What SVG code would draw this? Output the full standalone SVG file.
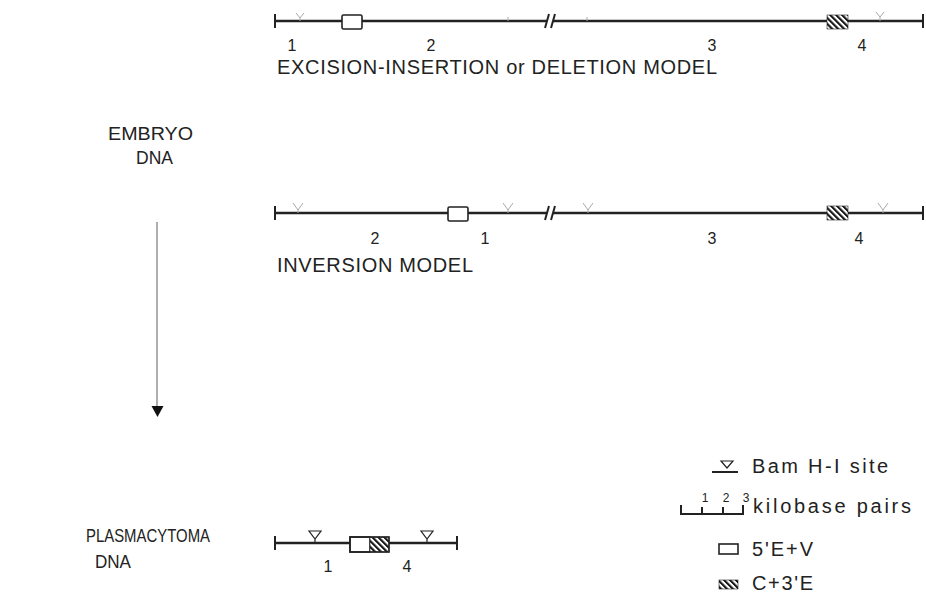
<svg xmlns="http://www.w3.org/2000/svg" width="926" height="599" viewBox="0 0 926 599">
<style>
text{font-family:"Liberation Sans",Arial,sans-serif;fill:#222}
.lbl{font-size:20px}
.side{font-size:19px}
.num{font-size:16px;text-anchor:middle}
.small{font-size:12px;text-anchor:middle}
.dna{stroke:#222;stroke-width:2.5;fill:none}
.tick{stroke:#222;stroke-width:2;fill:none}
.box{fill:#fff;stroke:#222;stroke-width:1.6}
.hb{fill:url(#hatch);stroke:#222;stroke-width:0.6}
.bam{fill:none;stroke:#222;stroke-width:1.2}
.faint{fill:none;stroke:#aaa;stroke-width:1}
</style>
<defs>
<pattern id="hatch" patternUnits="userSpaceOnUse" width="4.2" height="4.2" patternTransform="rotate(-45)">
<rect x="0" y="0" width="4.2" height="4.2" fill="#fff"/>
<rect x="0" y="0" width="2.1" height="4.2" fill="#111"/>
</pattern>
</defs>

<g id="embryo-label">
<text class="side" x="108" y="140" textLength="85" lengthAdjust="spacingAndGlyphs">EMBRYO</text>
<text class="side" x="136" y="164" textLength="37" lengthAdjust="spacingAndGlyphs">DNA</text>
</g>

<g id="plasmacytoma-label">
<text class="side" x="86" y="542" textLength="124" lengthAdjust="spacingAndGlyphs">PLASMACYTOMA</text>
<text class="side" x="95" y="568" textLength="36" lengthAdjust="spacingAndGlyphs">DNA</text>
</g>

<g id="connectors">
<line x1="157" y1="222" x2="157" y2="407" stroke="#777" stroke-width="1.2"/>
<polygon points="151.5,406 163.5,406 157.5,417" fill="#111"/>
</g>

<g id="excision-model">
<line class="tick" x1="275" y1="14" x2="275" y2="28"/>
<line class="dna" x1="275" y1="21" x2="547" y2="21"/>
<line class="dna" x1="553" y1="21" x2="923" y2="21"/>
<line class="tick" x1="545" y1="28" x2="549" y2="14"/>
<line class="tick" x1="551" y1="28" x2="555" y2="14"/>
<line class="tick" x1="923" y1="14" x2="923" y2="28"/>
<path class="faint" d="M296,13 L300,18 L304,13 M300,18 V21"/>
<path class="faint" d="M508,17 V21 M587,17 V21"/>
<path class="faint" d="M876,12 L880,17 L884,12 M880,17 V21"/>
<rect class="box" x="342" y="15" width="20" height="14" rx="1.5"/>
<rect class="hb" x="827" y="15" width="21" height="14"/>
<text class="num" x="292" y="51">1</text>
<text class="num" x="431" y="51">2</text>
<text class="num" x="712" y="51">3</text>
<text class="num" x="862" y="51">4</text>
<text class="lbl" x="277" y="74" textLength="440" lengthAdjust="spacing">EXCISION-INSERTION or DELETION MODEL</text>
</g>

<g id="inversion-model">
<line class="tick" x1="275" y1="206" x2="275" y2="220"/>
<line class="dna" x1="275" y1="213" x2="547" y2="213" stroke-width="3"/>
<line class="dna" x1="553" y1="213" x2="923" y2="213" stroke-width="3"/>
<line class="tick" x1="545" y1="220" x2="549" y2="206"/>
<line class="tick" x1="551" y1="220" x2="555" y2="206"/>
<line class="tick" x1="923" y1="206" x2="923" y2="220"/>
<path class="faint" d="M293,203 L298,210 L303,203 M298,210 V213"/>
<path class="faint" d="M503,203 L508,210 L513,203 M508,210 V213"/>
<path class="faint" d="M583,203 L588,210 L593,203 M588,210 V213"/>
<path class="faint" d="M878,203 L883,210 L888,203 M883,210 V213"/>
<rect class="box" x="448" y="207" width="20" height="14" rx="1.5"/>
<rect class="hb" x="827" y="206" width="21" height="14"/>
<text class="num" x="375" y="244">2</text>
<text class="num" x="485" y="244">1</text>
<text class="num" x="712" y="244">3</text>
<text class="num" x="859" y="244">4</text>
<text class="lbl" x="277" y="272" textLength="196" lengthAdjust="spacing">INVERSION MODEL</text>
</g>

<g id="plasmacytoma-dna">
<line class="tick" x1="275" y1="536" x2="275" y2="550"/>
<line class="dna" x1="275" y1="543" x2="457" y2="543"/>
<line class="tick" x1="457" y1="536" x2="457" y2="550"/>
<path class="bam" d="M309,531 H321 L315,539 Z M315,539 V543"/>
<path class="bam" d="M421,531 H433 L427,539 Z M427,539 V543"/>
<rect class="box" x="350" y="537" width="20" height="15"/>
<rect class="hb" x="370" y="537" width="19" height="15"/>
<rect x="350" y="537" width="39" height="15" fill="none" stroke="#222" stroke-width="1.6"/>
<text class="num" x="328" y="572">1</text>
<text class="num" x="407" y="572">4</text>
</g>

<g id="legend-bam">
<path class="bam" d="M721,461 H733 L727,468 Z"/>
<line x1="712" y1="472" x2="738" y2="472" stroke="#222" stroke-width="2"/>
<text class="lbl" x="752" y="473" textLength="136" lengthAdjust="spacing">Bam H-I site</text>
</g>

<g id="legend-scale">
<path class="tick" d="M681,505 V514 H743 V505 M702,514 V507 M723,514 V507"/>
<text class="small" x="705" y="502">1</text>
<text class="small" x="726" y="502">2</text>
<text class="small" x="746" y="502">3</text>
<text class="lbl" x="753" y="513" textLength="158" lengthAdjust="spacing">kilobase pairs</text>
</g>

<g id="legend-box">
<rect class="box" x="719" y="544" width="19" height="10"/>
<text class="lbl" x="752" y="556" textLength="61" lengthAdjust="spacing">5'E+V</text>
</g>

<g id="legend-hatch">
<rect class="hb" x="719" y="580" width="19" height="9"/>
<text class="lbl" x="752" y="590" textLength="61" lengthAdjust="spacing">C+3'E</text>
</g>
</svg>
